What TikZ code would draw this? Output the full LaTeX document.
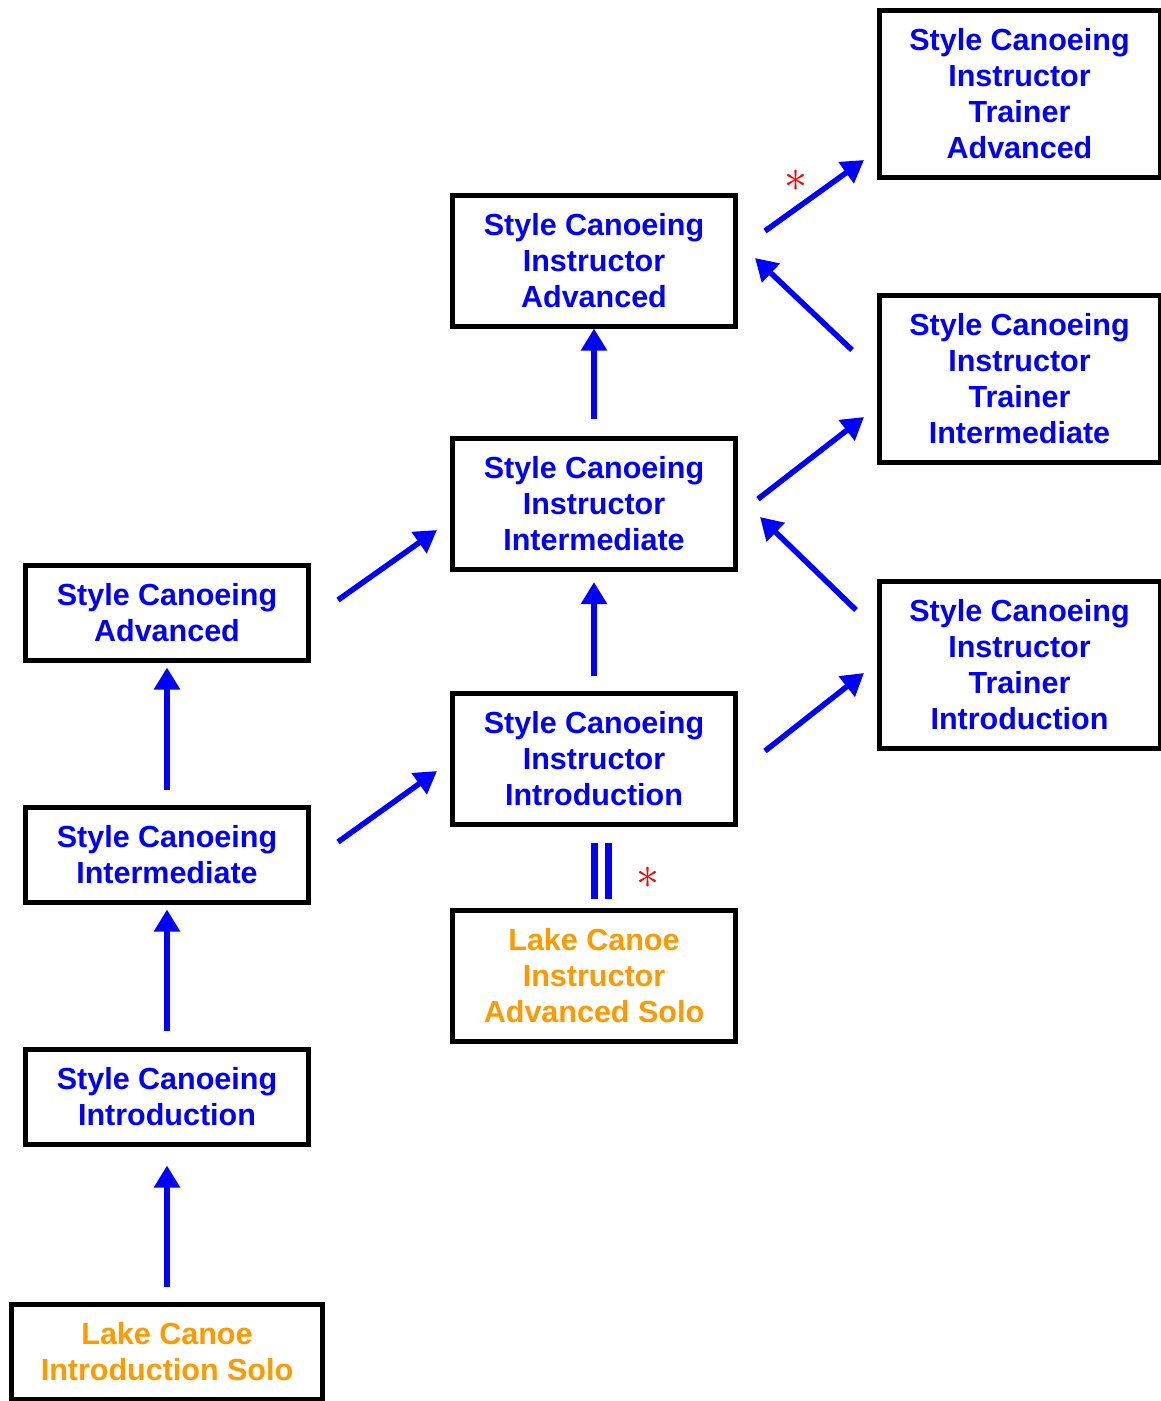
\documentclass[tikz,border=0pt]{standalone}
\usepackage{fontspec}
\setmainfont{Liberation Sans}
\usetikzlibrary{arrows.meta}
\definecolor{boxblue}{RGB}{0,0,255}
\definecolor{lakeorange}{RGB}{255,153,0}
\definecolor{starred}{RGB}{255,0,0}
\tikzset{
  box/.style={draw=black, line width=5pt, fill=white, align=center,
    inner sep=0pt, font=\fontsize{30.5}{36}\selectfont\bfseries, text=boxblue},
  lake/.style={box, text=lakeorange},
  arr/.style={draw=boxblue, line width=5.5pt, -{Triangle[length=22pt,width=25pt]}},
  bar/.style={draw=boxblue, line width=7pt},
  star/.style={text=starred, inner sep=0pt, scale=4.6}
}
\begin{document}
\begin{tikzpicture}[x=1pt,y=-1pt]
\useasboundingbox (0,0) rectangle (1161,1401);
% left column
\node[lake, minimum width=311pt, minimum height=95pt] (lcis) at (167,1352) {Lake Canoe\\Introduction Solo};
\node[box, minimum width=283pt, minimum height=95pt] (sci) at (167,1097) {Style Canoeing\\Introduction};
\node[box, minimum width=283pt, minimum height=95pt] (scint) at (167,855) {Style Canoeing\\Intermediate};
\node[box, minimum width=283pt, minimum height=95pt] (sca) at (167,613) {Style Canoeing\\Advanced};
% middle column
\node[box, minimum width=283pt, minimum height=131pt] (scii) at (594,759) {Style Canoeing\\Instructor\\Introduction};
\node[box, minimum width=283pt, minimum height=131pt] (scim) at (594,503.5) {Style Canoeing\\Instructor\\Intermediate};
\node[box, minimum width=283pt, minimum height=131pt] (scia) at (594,260.5) {Style Canoeing\\Instructor\\Advanced};
\node[lake, minimum width=283pt, minimum height=131pt] (lcias) at (594,975.5) {Lake Canoe\\Instructor\\Advanced Solo};
% right column
\node[box, minimum width=281pt, minimum height=167pt] (scita) at (1019.5,94) {Style Canoeing\\Instructor\\Trainer\\Advanced};
\node[box, minimum width=281pt, minimum height=167pt] (scitm) at (1019.5,379) {Style Canoeing\\Instructor\\Trainer\\Intermediate};
\node[box, minimum width=281pt, minimum height=167pt] (sciti) at (1019.5,665) {Style Canoeing\\Instructor\\Trainer\\Introduction};
% vertical arrows
\draw[arr, shorten <=15.5pt, shorten >=18.5pt] (lcis.north) -- (sci.south);
\draw[arr, shorten <=16.5pt, shorten >=4.5pt] (sci.north) -- (scint.south);
\draw[arr, shorten <=15.5pt, shorten >=4.5pt] (scint.north) -- (sca.south);
\draw[arr, shorten <=15.5pt, shorten >=10.5pt] (scii.north) -- (scim.south);
\draw[arr, shorten <=16.5pt, shorten >=0pt] (scim.north) -- (scia.south);
% diagonal arrow end points
\coordinate (d1s) at (338,600);  \coordinate (d1e) at (437,530);
\coordinate (d2s) at (338,842);  \coordinate (d2e) at (437,771);
\coordinate (d3s) at (765,231);  \coordinate (d3e) at (864,160);
\coordinate (d4s) at (852,350);  \coordinate (d4e) at (755,258);
\coordinate (d5s) at (758,499);  \coordinate (d5e) at (864,417);
\coordinate (d6s) at (856,610);  \coordinate (d6e) at (760,517);
\coordinate (d7s) at (765,751);  \coordinate (d7e) at (864,673);
\draw[arr] (d1s) -- (d1e);
\draw[arr] (d2s) -- (d2e);
\draw[arr] (d3s) -- (d3e);
\draw[arr] (d4s) -- (d4e);
\draw[arr] (d5s) -- (d5e);
\draw[arr] (d6s) -- (d6e);
\draw[arr] (d7s) -- (d7e);
% double bar between instructor introduction and lake canoe instructor advanced solo
\coordinate (b1t) at (594.5,843); \coordinate (b1b) at (594.5,899);
\coordinate (b2t) at (608,843);   \coordinate (b2b) at (608,899);
\draw[bar] (b1t) -- (b1b);
\draw[bar] (b2t) -- (b2b);
% asterisks
\node[star] (st1) at (796,181) {$\ast$};
\node[star] (st2) at (648,878) {$\ast$};
\end{tikzpicture}
\end{document}
